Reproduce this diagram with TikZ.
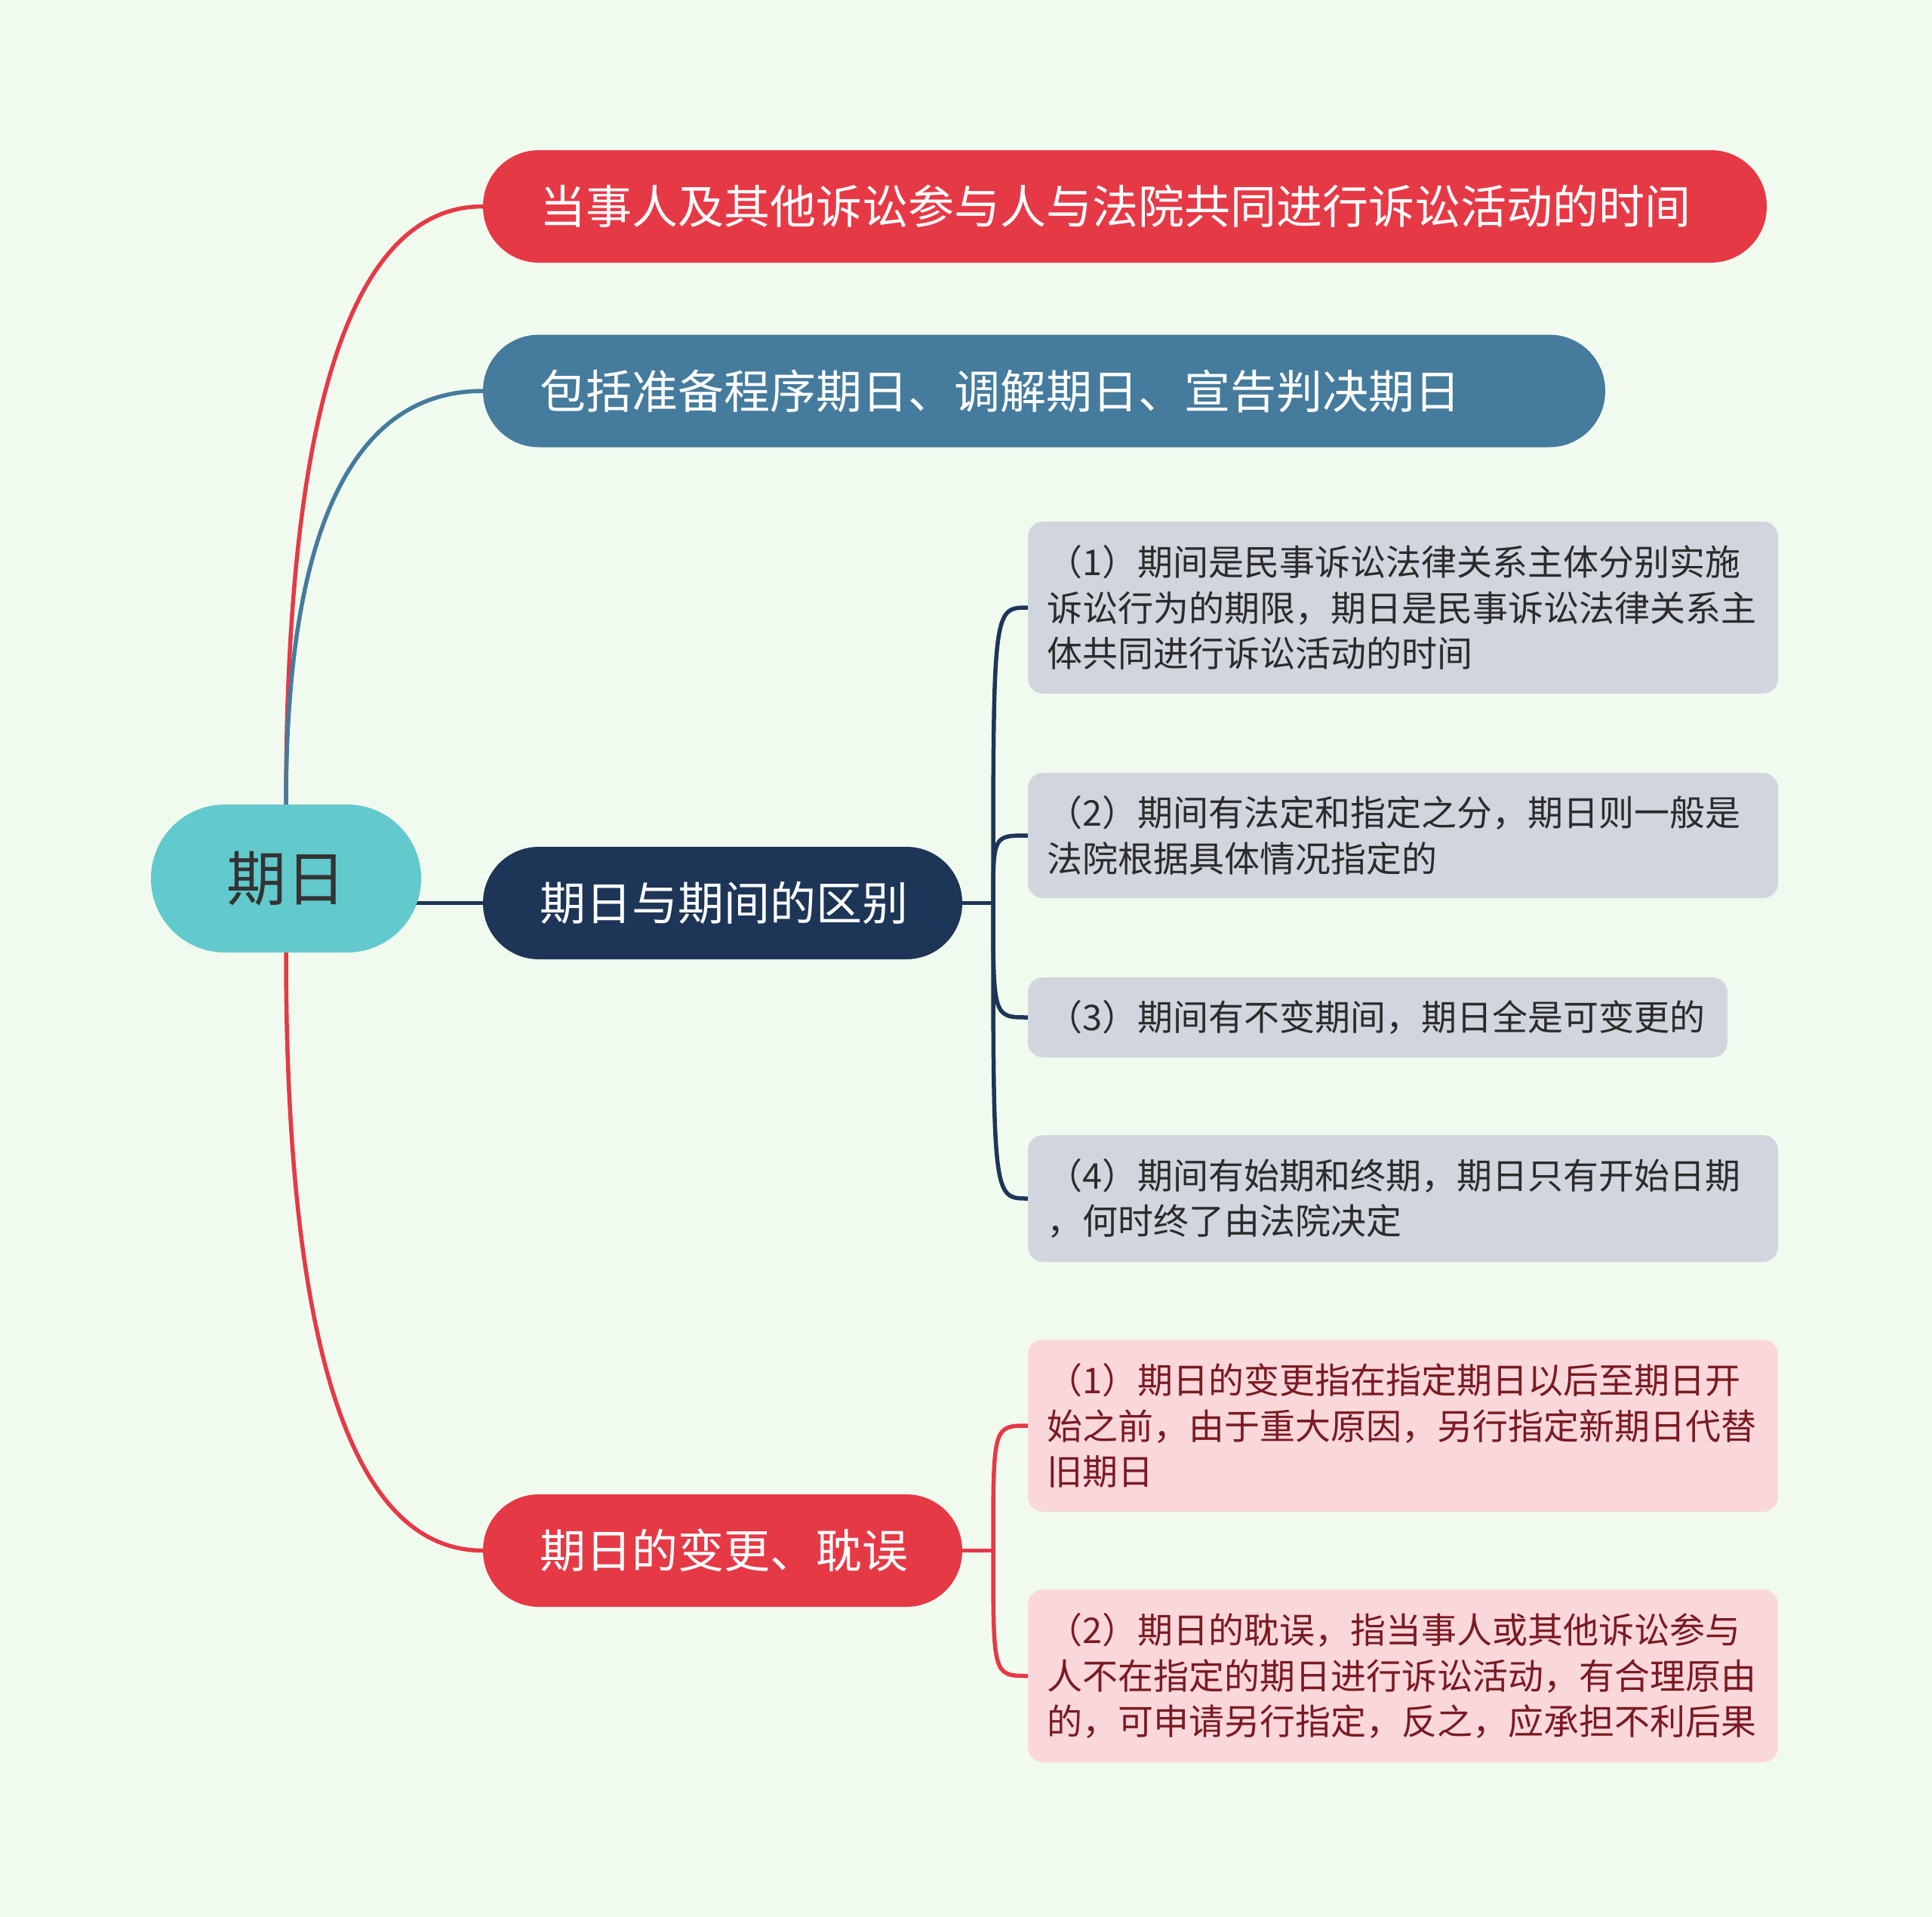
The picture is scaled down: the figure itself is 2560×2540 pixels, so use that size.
\documentclass[tikz,border=0pt]{standalone}
\usepackage{fontspec}
\setmainfont{Noto Sans CJK SC}
\usetikzlibrary{calc,backgrounds}
\definecolor{bgc}{HTML}{F1FAEE}
\definecolor{redc}{HTML}{E63946}
\definecolor{bluec}{HTML}{457B9D}
\definecolor{navyc}{HTML}{1D3557}
\definecolor{rootc}{HTML}{62C9CC}
\definecolor{leafc}{HTML}{D1D6DE}
\definecolor{pinkc}{HTML}{FAD7DB}
\definecolor{leaftxt}{HTML}{2B2B2B}
\definecolor{pinktxt}{HTML}{7A1A22}
\definecolor{txtdark}{HTML}{333333}
\tikzset{
  every node/.style={inner sep=0pt, outer sep=0pt},
  rootbox/.style={fill=rootc, rounded corners=98pt, minimum width=358pt, minimum height=196pt, text=txtdark, font=\fontsize{79}{90}\selectfont},
  headbox/.style={anchor=west, rounded corners=74pt, minimum height=149pt, inner xsep=75pt, align=left, text=white, font=\fontsize{61}{70}\selectfont},
  leafbox/.style={anchor=west, fill=leafc, rounded corners=20pt, inner xsep=25pt, text width=944pt, align=left, text=leaftxt, font=\fontsize{47}{60.4}\selectfont},
  pinkbox/.style={leafbox, fill=pinkc, text=pinktxt},
  conn/.style={line width=5.5pt, line cap=round},
}
\begin{document}
\begin{tikzpicture}[x=1pt,y=-1pt]
\useasboundingbox (0,0) rectangle (2560,2540);

\node[rootbox] (root) at (379,1164) {期日};

\node[headbox, fill=redc, text width=1551pt] (A) at (640,273.5) {当事人及其他诉讼参与人与法院共同进行诉讼活动的时间};
\node[headbox, fill=bluec, text width=1337pt] (B) at (640,518) {包括准备程序期日、调解期日、宣告判决期日};
\node[headbox, fill=navyc, text width=485pt] (C) at (640,1196.5) {期日与期间的区别};
\node[headbox, fill=redc, text width=485pt] (D) at (640,2054.5) {期日的变更、耽误};

\node[leafbox, minimum height=228pt] (L1) at (1362,805) {（1）期间是民事诉讼法律关系主体分别实施\\诉讼行为的期限，期日是民事诉讼法律关系主\\体共同进行诉讼活动的时间};
\node[leafbox, minimum height=166pt] (L2) at (1362,1107) {（2）期间有法定和指定之分，期日则一般是\\法院根据具体情况指定的};
\node[leafbox, minimum height=106pt, text width=877pt] (L3) at (1362,1348) {（3）期间有不变期间，期日全是可变更的};
\node[leafbox, minimum height=168pt] (L4) at (1362,1588) {（4）期间有始期和终期，期日只有开始日期\\，何时终了由法院决定};

\node[pinkbox, minimum height=228pt] (P1) at (1362,1889) {（1）期日的变更指在指定期日以后至期日开\\始之前，由于重大原因，另行指定新期日代替\\旧期日};
\node[pinkbox, minimum height=229pt] (P2) at (1362,2220.5) {（2）期日的耽误，指当事人或其他诉讼参与\\人不在指定的期日进行诉讼活动，有合理原由\\的，可申请另行指定，反之，应承担不利后果};

\begin{scope}[on background layer]
\fill[bgc] (0,0) rectangle (2560,2540);
\draw[conn,redc] (root.north) .. controls ($(root.north)!0.84!(root.north |- A.west)$) and ($(root.north |- A.west)!0.54!(A.west)$) .. (A.west);
\draw[conn,bluec] (root.north) .. controls ($(root.north)!0.84!(root.north |- B.west)$) and ($(root.north |- B.west)!0.54!(B.west)$) .. (B.west);
\draw[conn,redc] (root.south) .. controls ($(root.south)!0.84!(root.south |- D.west)$) and ($(root.south |- D.west)!0.54!(D.west)$) .. (D.west);
\draw[conn,navyc] (root.center |- C.west) -- (C.west);

\draw[conn,navyc] (C.east) -- ++(41,0) coordinate (cb);
\draw[conn,navyc] (cb) .. controls (cb |- L1.west) and (cb |- L1.west) .. (L1.west);
\draw[conn,navyc] (cb) .. controls (cb |- L2.west) and (cb |- L2.west) .. (L2.west);
\draw[conn,navyc] (cb) .. controls (cb |- L3.west) and (cb |- L3.west) .. (L3.west);
\draw[conn,navyc] (cb) .. controls (cb |- L4.west) and (cb |- L4.west) .. (L4.west);

\draw[conn,redc] (D.east) -- ++(41,0) coordinate (db);
\draw[conn,redc] (db) .. controls (db |- P1.west) and (db |- P1.west) .. (P1.west);
\draw[conn,redc] (db) .. controls (db |- P2.west) and (db |- P2.west) .. (P2.west);
\end{scope}
\end{tikzpicture}
\end{document}
